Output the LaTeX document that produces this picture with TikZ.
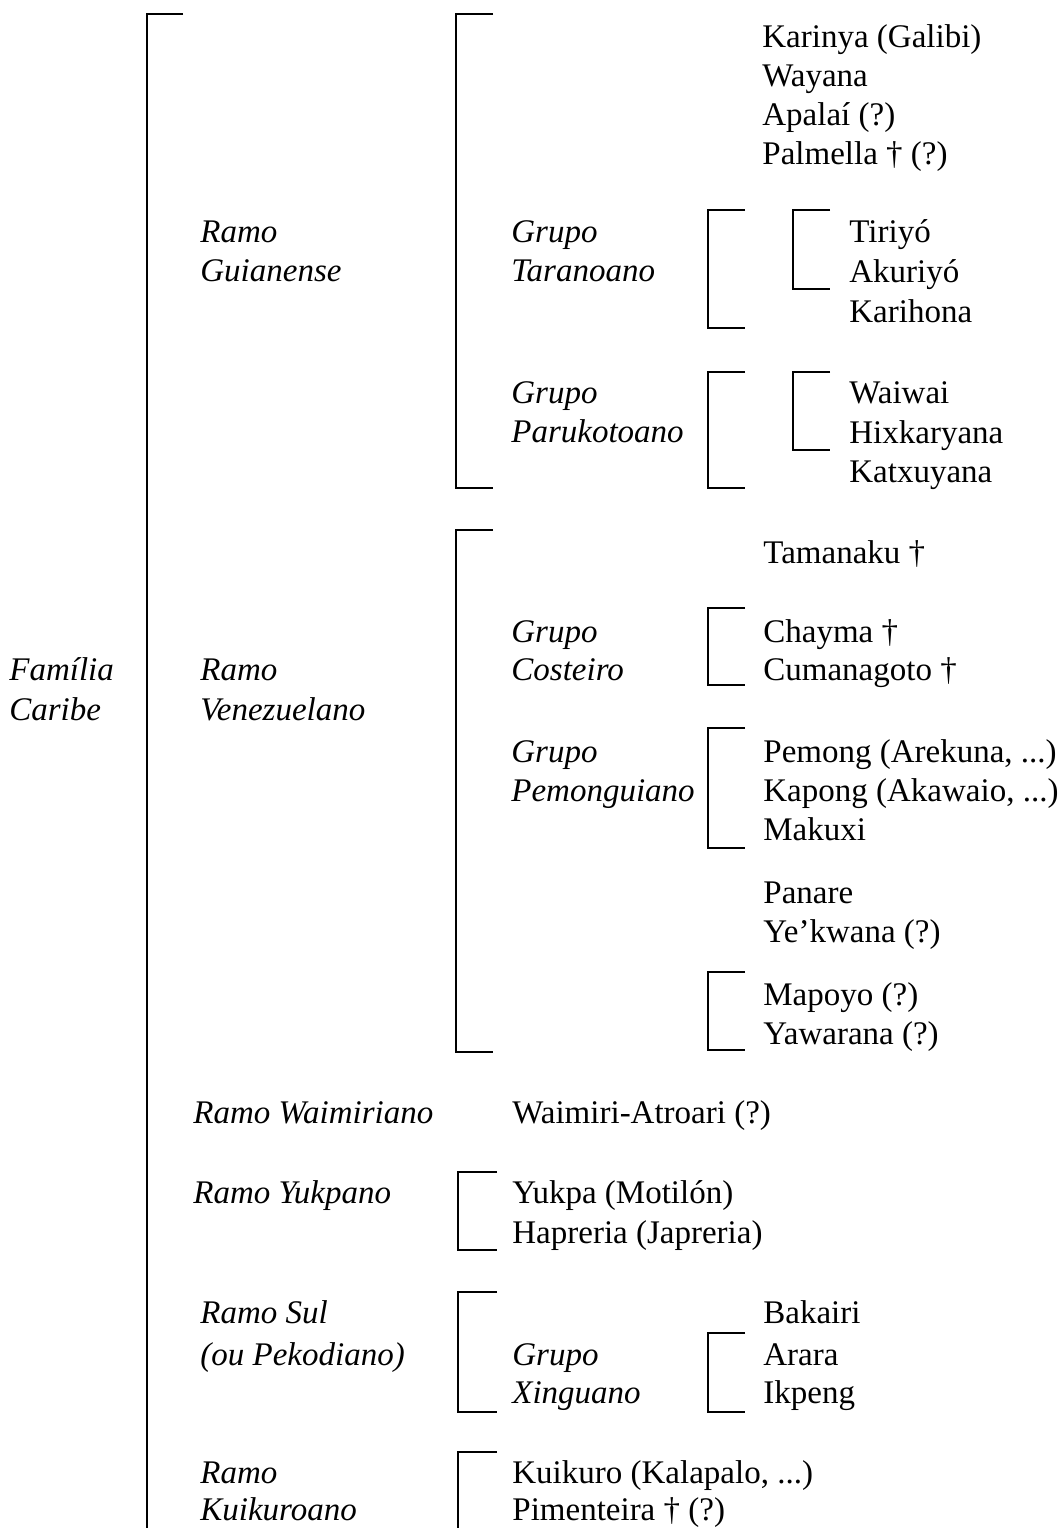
\documentclass[tikz,border=0pt]{standalone}
\usepackage{fontspec}
\setmainfont{Liberation Serif}
\tikzset{
  lang/.style={anchor=base west,inner sep=0pt,font=\fontsize{16.5}{20}\selectfont},
  ramo/.style={lang,font=\fontsize{16.5}{20}\selectfont\itshape},
  brk/.style={line width=0.9pt}
}
\begin{document}
\begin{tikzpicture}[x=0.5pt,y=-0.5pt]
  \useasboundingbox (0,0) rectangle (1062,1528);
  % familia
  \draw[brk] (183,14) -- (147,14) -- (147,1528);
  \node[ramo] (fam1) at (9,680) {Família};
  \node[ramo] (fam2) at (9,720) {Caribe};
  % ramo guianense
  \draw[brk] (493,14) -- (456,14) -- (456,488) -- (493,488);
  \node[ramo] (guia1) at (200,242) {Ramo};
  \node[ramo] (guia2) at (200,281) {Guianense};
  \node[lang] (karinya) at (762,47) {Karinya (Galibi)};
  \node[lang] (wayana) at (762,86) {Wayana};
  \node[lang] (apalai) at (762,125) {Apalaí (?)};
  \node[lang] (palmella) at (762,164) {Palmella † (?)};
  \node[ramo] (tara1) at (511,242) {Grupo};
  \node[ramo] (tara2) at (511,281) {Taranoano};
  \draw[brk] (745,210) -- (708,210) -- (708,328) -- (745,328);
  \draw[brk] (830,210) -- (793,210) -- (793,289) -- (830,289);
  \node[lang] (tiriyo) at (849,242) {Tiriyó};
  \node[lang] (akuriyo) at (849,282) {Akuriyó};
  \node[lang] (karihona) at (849,322) {Karihona};
  \node[ramo] (paru1) at (511,403) {Grupo};
  \node[ramo] (paru2) at (511,442) {Parukotoano};
  \draw[brk] (745,372) -- (708,372) -- (708,488) -- (745,488);
  \draw[brk] (830,372) -- (793,372) -- (793,450) -- (830,450);
  \node[lang] (waiwai) at (849,403) {Waiwai};
  \node[lang] (hixkaryana) at (849,443) {Hixkaryana};
  \node[lang] (katxuyana) at (849,482) {Katxuyana};
  % ramo venezuelano
  \draw[brk] (493,530) -- (456,530) -- (456,1052) -- (493,1052);
  \node[ramo] (vene1) at (200,680) {Ramo};
  \node[ramo] (vene2) at (200,720) {Venezuelano};
  \node[lang] (tamanaku) at (763,563) {Tamanaku †};
  \node[ramo] (cost1) at (511,642) {Grupo};
  \node[ramo] (cost2) at (511,680) {Costeiro};
  \draw[brk] (745,608) -- (708,608) -- (708,685) -- (745,685);
  \node[lang] (chayma) at (763,642) {Chayma †};
  \node[lang] (cumanagoto) at (763,680) {Cumanagoto †};
  \node[ramo] (pemo1) at (511,762) {Grupo};
  \node[ramo] (pemo2) at (511,801) {Pemonguiano};
  \draw[brk] (745,728) -- (708,728) -- (708,848) -- (745,848);
  \node[lang] (pemong) at (763,762) {Pemong (Arekuna, ...)};
  \node[lang] (kapong) at (763,801) {Kapong (Akawaio, ...)};
  \node[lang] (makuxi) at (763,840) {Makuxi};
  \node[lang] (panare) at (763,903) {Panare};
  \node[lang] (yekwana) at (763,942) {Ye’kwana (?)};
  \draw[brk] (745,972) -- (708,972) -- (708,1050) -- (745,1050);
  \node[lang] (mapoyo) at (763,1005) {Mapoyo (?)};
  \node[lang] (yawarana) at (763,1044) {Yawarana (?)};
  % outros ramos
  \node[ramo] (waim) at (193,1123) {Ramo Waimiriano};
  \node[lang] (waimiri) at (512,1123) {Waimiri-Atroari (?)};
  \node[ramo] (yukp) at (193,1203) {Ramo Yukpano};
  \draw[brk] (497,1172) -- (458,1172) -- (458,1250) -- (497,1250);
  \node[lang] (yukpa) at (512,1203) {Yukpa (Motilón)};
  \node[lang] (hapreria) at (512,1243) {Hapreria (Japreria)};
  \node[ramo] (sul1) at (200,1323) {Ramo Sul};
  \node[ramo] (sul2) at (200,1365) {(ou Pekodiano)};
  \draw[brk] (497,1292) -- (458,1292) -- (458,1412) -- (497,1412);
  \node[ramo] (xing1) at (512,1365) {Grupo};
  \node[ramo] (xing2) at (512,1403) {Xinguano};
  \draw[brk] (745,1333) -- (708,1333) -- (708,1412) -- (745,1412);
  \node[lang] (bakairi) at (763,1323) {Bakairi};
  \node[lang] (arara) at (763,1365) {Arara};
  \node[lang] (ikpeng) at (763,1403) {Ikpeng};
  \node[ramo] (kuik1) at (200,1483) {Ramo};
  \node[ramo] (kuik2) at (200,1520) {Kuikuroano};
  \draw[brk] (497,1452) -- (458,1452) -- (458,1528);
  \node[lang] (kuikuro) at (512,1483) {Kuikuro (Kalapalo, ...)};
  \node[lang] (pimenteira) at (512,1520) {Pimenteira † (?)};
\end{tikzpicture}
\end{document}
